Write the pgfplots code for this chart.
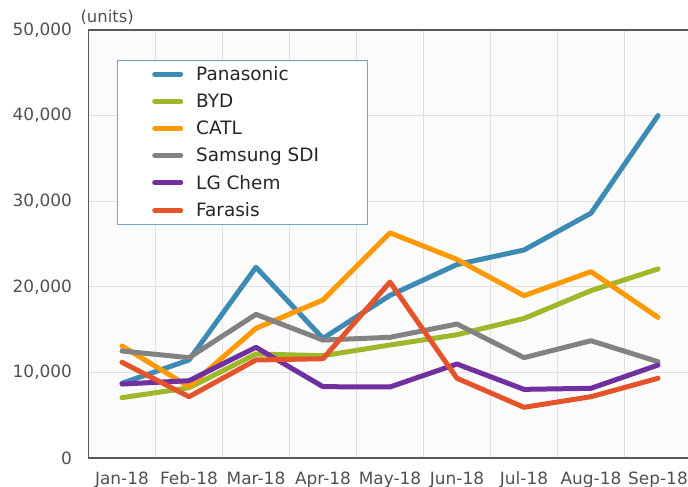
\documentclass[border=0pt]{standalone}
\usepackage{pgfplots}
\pgfplotsset{compat=1.18}
\usepackage{fontspec}
\setmainfont{DejaVu Sans}
\definecolor{cPan}{HTML}{3D8BB5}
\definecolor{cBYD}{HTML}{9DB829}
\definecolor{cCATL}{HTML}{FF9900}
\definecolor{cSam}{HTML}{828282}
\definecolor{cLG}{HTML}{7030A0}
\definecolor{cFar}{HTML}{E5532A}
\definecolor{cGrid}{HTML}{E0E0E0}
\definecolor{cTick}{HTML}{505050}
\definecolor{cLeg}{HTML}{6AA8D0}
\begin{document}
\begin{tikzpicture}
\useasboundingbox (0,0) rectangle (688bp,487bp);
\node[anchor=base west, text=cTick, font=\fontsize{16.5}{18}\selectfont] at (77bp,464bp) {(units)};
\begin{axis}[
  at={(88.5bp,29bp)}, anchor=south west,
  scale only axis, width=603bp, height=428bp,
  xmin=-0.5, xmax=8.5, ymin=0, ymax=50000,
  xtick={0,...,8},
  xticklabels={Jan-18,Feb-18,Mar-18,Apr-18,May-18,Jun-18,Jul-18,Aug-18,Sep-18},
  minor xtick={0.5,1.5,...,7.5},
  ytick={0,10000,...,50000},
  scaled y ticks=false,
  /pgf/number format/.cd, 1000 sep={,}, assume math mode=true, /pgfplots/.cd,
  xminorgrids=true, ymajorgrids=true, xmajorgrids=false,
  grid style={cGrid, line width=1.2bp},
  minor grid style={cGrid, line width=1.2bp},
  major tick length=0pt, minor tick length=0pt,
  axis line style={draw=black!65, line width=1.8bp},
  axis background/.style={fill=black!1.5},
  tick label style={text=cTick, font=\fontsize{17}{20}\selectfont},
  yticklabel style={xshift=-13bp},
  xticklabel style={yshift=-10bp},
  legend cell align=left,
  legend style={at={(0.047,0.93)}, anchor=north west, draw=cLeg, line width=0.8bp,
    fill=white, font=\fontsize{18.5}{21}\selectfont, text=black!85,
    inner xsep=35bp, inner ysep=4bp, row sep=8bp,
    nodes={inner xsep=13bp}},
  legend image code/.code={\draw[#1, line width=5bp, line cap=round] (0bp,0bp) -- (26bp,0bp);},
  every axis plot/.append style={line width=5bp, line join=round, line cap=round},
]
\addplot[cPan] coordinates {(0,8730) (1,11450) (2,22280) (3,13980) (4,19000) (5,22600) (6,24300) (7,28600) (8,40000)};
\addlegendentry{Panasonic}
\addplot[cBYD] coordinates {(0,7050) (1,8200) (2,12150) (3,11950) (4,13200) (5,14400) (6,16300) (7,19550) (8,22080)};
\addlegendentry{BYD}
\addplot[cCATL] coordinates {(0,13080) (1,8330) (2,15150) (3,18460) (4,26300) (5,23200) (6,18960) (7,21770) (8,16430)};
\addlegendentry{CATL}
\addplot[cSam] coordinates {(0,12500) (1,11720) (2,16780) (3,13780) (4,14100) (5,15650) (6,11720) (7,13700) (8,11250)};
\addlegendentry{Samsung SDI}
\addplot[cLG] coordinates {(0,8640) (1,9030) (2,12930) (3,8330) (4,8300) (5,10980) (6,8020) (7,8140) (8,10860)};
\addlegendentry{LG Chem}
\addplot[cFar] coordinates {(0,11180) (1,7160) (2,11450) (3,11600) (4,20550) (5,9310) (6,5920) (7,7160) (8,9310)};
\addlegendentry{Farasis}
\end{axis}
\end{tikzpicture}
\end{document}
